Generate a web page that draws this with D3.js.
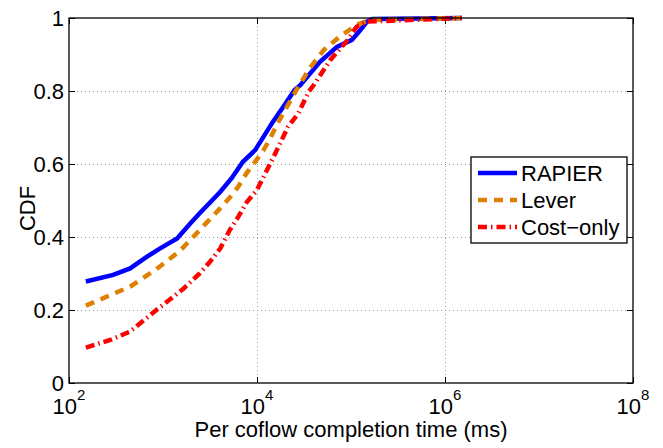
<!DOCTYPE html>
<html>
<head>
<meta charset="utf-8">
<script src="https://cdn.jsdelivr.net/npm/d3@7"></script>
<style>
  body { margin: 0; background: #fff; }
  svg { font-family: "Liberation Sans", Arial, Helvetica, sans-serif; }
</style>
</head>
<body>
<svg id="chart" width="663" height="448"></svg>
<script>
// values (x in ms, y = CDF)
const rapierX = [151, 295, 447, 676, 933, 1413, 1950, 2455, 4074, 5370, 7079, 9550, 11750, 14790, 19050, 25120, 28840, 46770, 70790, 102300, 125900, 147900, 169800, 1514000];
const rapierY = [0.278, 0.296, 0.314, 0.346, 0.369, 0.396, 0.437, 0.465, 0.524, 0.561, 0.606, 0.638, 0.675, 0.716, 0.757, 0.803, 0.816, 0.880, 0.921, 0.940, 0.967, 0.990, 0.997, 1.0];

const leverX = [151, 447, 851, 1514, 2455, 4074, 5623, 6310, 7762, 9550, 11750, 13800, 16220, 19050, 22390, 26300, 36310, 51290, 75860, 114800, 158500, 1514000];
const leverY = [0.212, 0.264, 0.312, 0.362, 0.419, 0.479, 0.520, 0.538, 0.575, 0.606, 0.638, 0.670, 0.707, 0.739, 0.771, 0.803, 0.862, 0.912, 0.949, 0.981, 0.995, 1.0];

const costX = [151, 275, 447, 851, 1660, 2455, 3162, 4074, 5129, 6310, 7762, 10000, 14790, 21380, 27540, 35480, 39810, 60260, 89130, 114800, 147900, 1514000];
const costY = [0.097, 0.118, 0.141, 0.200, 0.259, 0.300, 0.332, 0.369, 0.419, 0.455, 0.495, 0.529, 0.616, 0.702, 0.739, 0.798, 0.815, 0.885, 0.935, 0.976, 0.990, 1.0];

const seriesNames = ["RAPIER", "Lever", "Cost\u2212only"];
const xTickExps = [2, 4, 6, 8];
const yTicks = [0, 0.2, 0.4, 0.6, 0.8, 1];

const margins = { left: 69, top: 18, right: 30, bottom: 65 };
const width = 663, height = 448;
const fontSize = 22;

const svg = d3.select("#chart");

const x = d3.scaleLog()
  .domain([1e2, 1e8])
  .range([margins.left, width - margins.right]);

const y = d3.scaleLinear()
  .domain([0, 1])
  .range([height - margins.bottom, margins.top]);

const xTicks = xTickExps.map(e => Math.pow(10, e));

// Grid
const grid = svg.append("g")
  .attr("stroke", "#9a9a9a")
  .attr("stroke-width", 1)
  .attr("stroke-dasharray", "1,3");

grid.selectAll("line.gx")
  .data(xTicks.slice(1, -1))
  .join("line")
  .attr("x1", d => Math.round(x(d)) + 0.5)
  .attr("x2", d => Math.round(x(d)) + 0.5)
  .attr("y1", y(0))
  .attr("y2", y(1));

grid.selectAll("line.gy")
  .data(yTicks.slice(1, -1))
  .join("line")
  .attr("x1", x(1e2))
  .attr("x2", x(1e8))
  .attr("y1", d => Math.round(y(d)) + 0.5)
  .attr("y2", d => Math.round(y(d)) + 0.5);

// Axes (ticks inward, MATLAB style)
const tickLen = 6;
svg.append("g")
  .attr("transform", `translate(0, ${y(0)})`)
  .call(d3.axisBottom(x).tickValues(xTicks).tickSize(-tickLen).tickFormat(""))
  .call(g => g.select(".domain").remove());
svg.append("g")
  .attr("transform", `translate(0, ${y(1)})`)
  .call(d3.axisTop(x).tickValues(xTicks).tickSize(-tickLen).tickFormat(""))
  .call(g => g.select(".domain").remove());
svg.append("g")
  .attr("transform", `translate(${x(1e2)}, 0)`)
  .call(d3.axisLeft(y).tickValues(yTicks).tickSize(-tickLen).tickFormat(""))
  .call(g => g.select(".domain").remove());
svg.append("g")
  .attr("transform", `translate(${x(1e8)}, 0)`)
  .call(d3.axisRight(y).tickValues(yTicks).tickSize(-tickLen).tickFormat(""))
  .call(g => g.select(".domain").remove());

// Lines
const line = d3.line()
  .x(d => x(d[0]))
  .y(d => y(d[1]));

const series = [
  { name: seriesNames[0], data: d3.zip(rapierX, rapierY), color: "#0000ff", dash: null },
  { name: seriesNames[1], data: d3.zip(leverX, leverY), color: "#df8000", dash: "9,7" },
  { name: seriesNames[2], data: d3.zip(costX, costY), color: "#ff0000", dash: "9,4,1.5,4" }
];

svg.append("g")
  .selectAll("path")
  .data(series)
  .join("path")
  .attr("d", d => line(d.data))
  .attr("fill", "none")
  .attr("stroke", d => d.color)
  .attr("stroke-width", 4.5)
  .attr("stroke-dasharray", d => d.dash);

// Box
svg.append("rect")
  .attr("x", x(1e2))
  .attr("y", y(1))
  .attr("width", x(1e8) - x(1e2))
  .attr("height", y(0) - y(1))
  .attr("fill", "none")
  .attr("stroke", "#000")
  .attr("stroke-width", 1.3);

// Tick labels
svg.append("g")
  .selectAll("text")
  .data(yTicks)
  .join("text")
  .attr("x", x(1e2) - 5)
  .attr("y", d => y(d))
  .attr("dy", "0.36em")
  .attr("text-anchor", "end")
  .style("font-size", fontSize + "px")
  .text(d => d3.format("~g")(d));

const xl = svg.append("g")
  .selectAll("text")
  .data(xTickExps)
  .join("text")
  .attr("x", d => x(Math.pow(10, d)))
  .attr("y", 414)
  .attr("text-anchor", "middle")
  .style("font-size", fontSize + "px");
xl.append("tspan").text("10");
xl.append("tspan")
  .attr("dy", -14)
  .style("font-size", "15px")
  .text(d => d);

// Axis labels
svg.append("text")
  .attr("x", (x(1e2) + x(1e8)) / 2)
  .attr("y", 437)
  .attr("text-anchor", "middle")
  .style("font-size", fontSize + "px")
  .text("Per coflow completion time (ms)");

svg.append("text")
  .attr("transform", `translate(35, ${(y(0) + y(1)) / 2 + 8}) rotate(-90)`)
  .attr("text-anchor", "middle")
  .style("font-size", fontSize + "px")
  .text("CDF");

// Legend
const legend = svg.append("g").attr("transform", "translate(471, 157)");
legend.append("rect")
  .attr("width", 156)
  .attr("height", 86)
  .attr("fill", "#fff")
  .attr("stroke", "#000")
  .attr("stroke-width", 1.3);

const rows = legend.selectAll("g")
  .data(series)
  .join("g")
  .attr("transform", (d, i) => `translate(0, ${16 + i * 27})`);

rows.append("line")
  .attr("x1", 7)
  .attr("x2", 46)
  .attr("stroke", d => d.color)
  .attr("stroke-width", 4.5)
  .attr("stroke-dasharray", d => d.dash);

rows.append("text")
  .attr("x", 50)
  .attr("dy", "0.36em")
  .style("font-size", fontSize + "px")
  .text(d => d.name);
</script>
</body>
</html>
